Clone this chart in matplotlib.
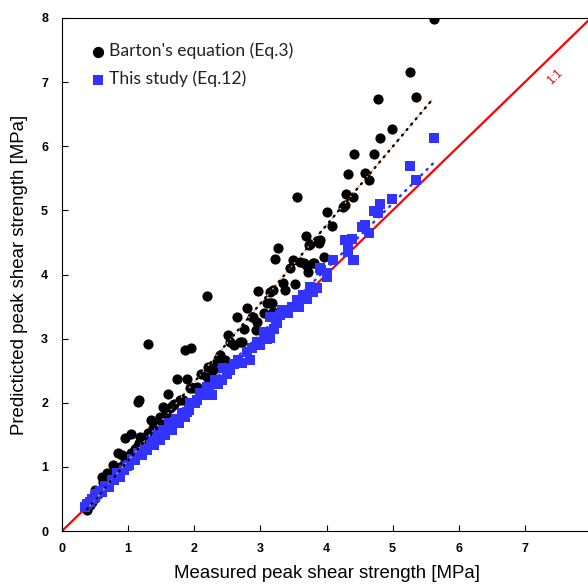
import matplotlib
matplotlib.use('Agg')
import matplotlib.pyplot as plt

plt.rcParams['font.family'] = ['Liberation Sans', 'DejaVu Sans']

# Barton's equation (Eq.3): measured vs predicted peak shear strength [MPa]
barton_x = [0.38, 0.42, 0.45, 0.50, 0.50, 0.55, 0.60, 0.62, 0.60, 0.68, 0.70, 0.75, 0.77, 0.80, 0.85,
            0.88, 0.90, 0.95, 0.95, 1.00, 1.04, 1.05, 1.10, 1.13, 1.15, 1.16, 1.16, 1.18, 1.20, 1.25,
            1.30, 1.30, 1.35, 1.38, 1.44, 1.48, 1.50, 1.53, 1.58, 1.60, 1.63, 1.66, 1.70, 1.74, 1.78,
            1.83, 1.86, 1.89, 1.95, 1.94, 1.98, 2.04, 2.10, 2.19, 2.19, 2.21, 2.27, 2.28, 2.35, 2.39,
            2.47, 2.51, 2.54, 2.60, 2.65, 2.69, 2.72, 2.75, 2.80, 2.87, 2.89, 2.93, 2.95, 2.97, 3.05,
            3.10, 3.15, 3.15, 3.18, 3.19, 3.19, 3.22, 3.27, 3.34, 3.37, 3.45, 3.49, 3.52, 3.55, 3.60,
            3.66, 3.69, 3.70, 3.72, 3.74, 3.75, 3.80, 3.81, 3.86, 3.89, 3.90, 3.96, 4.01, 4.08, 4.25,
            4.28, 4.30, 4.33, 4.40, 4.42, 4.58, 4.65, 4.72, 4.78, 4.81, 4.99, 5.26, 5.36, 5.63]
barton_y = [0.33, 0.40, 0.46, 0.52, 0.64, 0.58, 0.66, 0.76, 0.84, 0.90, 0.78, 0.85, 1.03, 0.92, 1.22,
            1.00, 1.19, 1.45, 1.08, 1.15, 1.51, 1.22, 1.28, 1.31, 2.01, 2.04, 1.37, 1.47, 1.38, 1.45,
            1.53, 2.92, 1.73, 1.60, 1.65, 1.78, 1.70, 1.93, 1.82, 2.14, 1.92, 1.95, 1.98, 2.37, 2.05,
            2.04, 2.82, 2.37, 2.85, 2.23, 2.23, 2.25, 2.45, 3.67, 2.40, 2.56, 2.54, 2.51, 2.65, 2.75,
            2.67, 3.06, 2.95, 2.90, 3.34, 2.95, 2.95, 3.15, 3.48, 3.34, 3.34, 3.13, 3.26, 3.74, 3.40,
            3.55, 3.56, 3.73, 3.55, 3.76, 3.42, 4.24, 4.41, 3.87, 3.76, 4.10, 4.23, 3.85, 5.21, 4.20,
            4.18, 4.60, 4.13, 4.04, 4.46, 4.48, 4.18, 4.18, 4.52, 4.49, 4.54, 4.27, 4.98, 4.76, 5.05,
            5.09, 5.26, 5.57, 5.21, 5.88, 5.59, 5.47, 5.88, 6.74, 6.13, 6.27, 7.16, 6.77, 7.99]

# This study (Eq.12)
study_x = [0.35, 0.38, 0.42, 0.45, 0.50, 0.52, 0.58, 0.60, 0.65, 0.71, 0.75, 0.79, 0.83, 0.88, 0.94,
           0.98, 1.01, 1.06, 1.10, 1.15, 1.21, 1.25, 1.29, 1.34, 1.39, 1.44, 1.48, 1.52, 1.56, 1.62,
           1.66, 1.72, 1.77, 1.82, 1.86, 1.89, 1.92, 1.94, 2.01, 2.04, 2.08, 2.13, 2.19, 2.22, 2.27,
           2.31, 2.36, 2.42, 2.44, 2.50, 2.54, 2.60, 2.66, 2.72, 2.80, 2.84, 2.88, 2.95, 3.00, 3.05,
           3.10, 3.15, 3.15, 3.20, 3.25, 3.30, 3.33, 3.37, 3.42, 3.48, 3.55, 3.58, 3.65, 3.70, 3.75,
           3.80, 3.86, 3.90, 3.92, 4.01, 4.01, 4.10, 4.28, 4.31, 4.33, 4.33, 4.39, 4.40, 4.42, 4.54,
           4.58, 4.65, 4.72, 4.78, 4.81, 4.99, 5.26, 5.36, 5.63]
study_y = [0.37, 0.42, 0.45, 0.50, 0.53, 0.58, 0.62, 0.61, 0.70, 0.69, 0.80, 0.80, 0.90, 0.84, 0.95,
           1.02, 1.03, 1.12, 1.11, 1.22, 1.19, 1.30, 1.26, 1.40, 1.34, 1.50, 1.42, 1.58, 1.50, 1.68,
           1.58, 1.75, 1.68, 1.84, 1.78, 1.86, 1.89, 2.00, 2.00, 2.04, 2.15, 2.12, 2.25, 2.20, 2.12,
           2.36, 2.30, 2.36, 2.54, 2.45, 2.51, 2.60, 2.67, 2.62, 2.79, 2.67, 2.85, 2.95, 2.90, 3.10,
           3.00, 3.01, 3.34, 3.15, 3.24, 3.37, 3.45, 3.45, 3.40, 3.49, 3.60, 3.50, 3.68, 3.62, 3.81,
           3.72, 3.79, 4.10, 4.07, 3.96, 4.02, 4.23, 4.54, 4.54, 4.35, 4.40, 4.55, 4.23, 4.23, 4.74,
           4.77, 4.65, 4.99, 4.96, 5.10, 5.18, 5.69, 5.48, 6.13]

# linear trend lines (end points)
barton_fit_x = [0.38, 5.61]
barton_fit_y = [0.34, 6.74]
study_fit_x = [0.35, 5.64]
study_fit_y = [0.37, 5.76]

one_to_one = [0, 8]
ticks = list(range(9))

fig = plt.figure(figsize=(5.88, 5.84), dpi=100)
ax = fig.add_axes([62 / 588, 53 / 584, 529 / 588, 513 / 584])

ax.plot(one_to_one, one_to_one, color='red', lw=1.6, zorder=1)
ax.scatter(barton_x, barton_y, s=54, color='black', marker='o', lw=0, zorder=2,
           label="Barton's equation (Eq.3)")
ax.scatter(study_x, study_y, s=46, color='#3333ff', marker='s', lw=0, zorder=3,
           label='This study (Eq.12)')
ax.plot(barton_fit_x, barton_fit_y, color='#f4a460', lw=1.0, ls=(0, (1.5, 1.5)), zorder=4)
ax.plot(barton_fit_x, barton_fit_y, color='black', lw=1.7, ls=(0, (0.5, 2.5)),
        dash_capstyle='round', zorder=5)
ax.plot(study_fit_x, study_fit_y, color='#3333ff', lw=1.8, ls=(0, (0.5, 2.5)),
        dash_capstyle='round', zorder=5)

ax.text(7.45, 7.08, '1:1', color='red', fontsize=8.5, rotation=44,
        ha='center', va='center')

ax.set_xlim(0, 8)
ax.set_ylim(0, 8)
ax.set_xticks(ticks, labels=[str(t) for t in ticks], fontweight='bold', fontsize=9)
ax.set_yticks(ticks, labels=[str(t) for t in ticks], fontweight='bold', fontsize=9)
ax.tick_params(axis='x', direction='in', length=4, width=0.8, pad=9)
ax.tick_params(axis='y', direction='in', length=4, width=0.8, pad=10)

ax.set_xlabel('Measured peak shear strength [MPa]', fontsize=13.4, labelpad=7)
ax.set_ylabel('Predicticted peak shear strength [MPa]', fontsize=13.4, labelpad=9)

leg = ax.legend(loc='upper left', bbox_to_anchor=(0.008, 0.996), frameon=False,
                handletextpad=0.15, markerscale=1.1, borderaxespad=0.8, borderpad=0.5,
                labelspacing=0.66, handlelength=1.0, prop={'family': 'Lato', 'size': 12.6})
for t in leg.get_texts():
    t.set_color('#222222')

plt.savefig('out.png', dpi=100)
